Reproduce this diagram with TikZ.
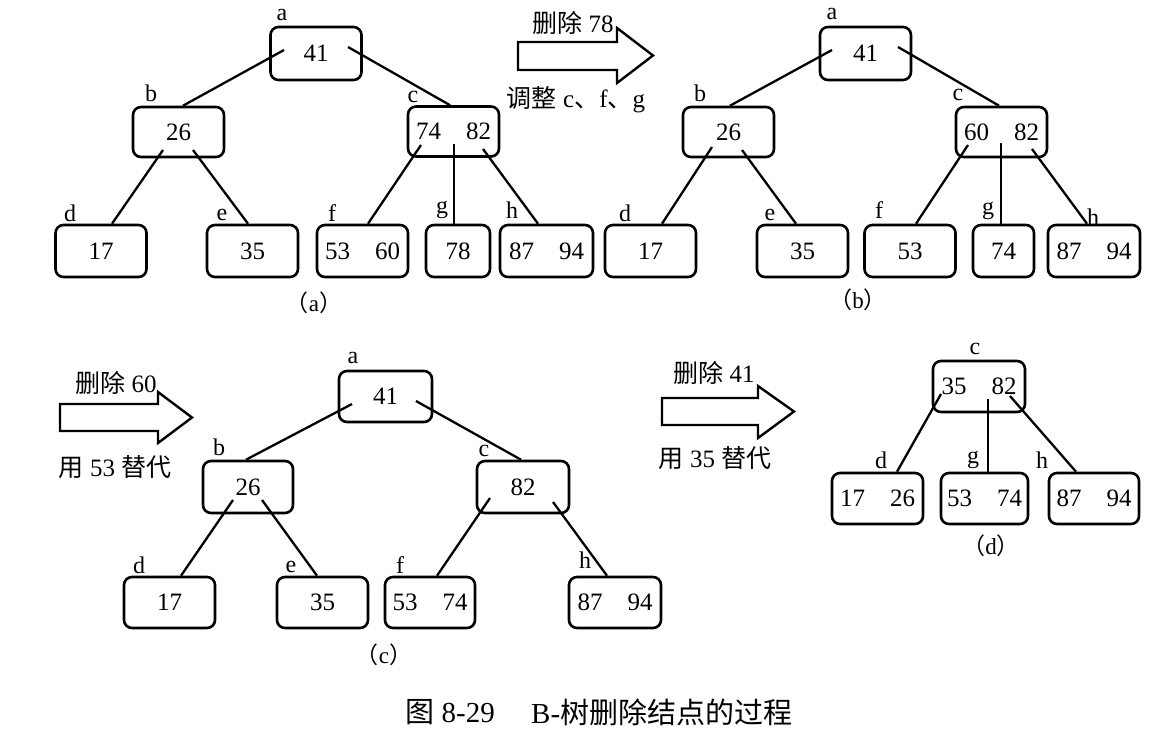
\documentclass[tikz,border=0pt]{standalone}
\usepackage{fontspec}
\setmainfont{Liberation Serif}
\newfontfamily\cjk{Noto Sans CJK SC}
\usetikzlibrary{calc}
\newcommand\kk[2]{#1\hspace{25pt}#2}
\begin{document}
\begin{tikzpicture}[x=1pt,y=-1pt,
 bx/.style={draw, line width=2.6pt, rounded corners=8pt, minimum width=91pt, minimum height=52pt, inner sep=0pt, font=\fontsize{25}{27}\selectfont},
 lb/.style={inner sep=0pt, font=\fontsize{24}{26}\selectfont},
 ed/.style={line width=2.3pt},
 blk/.style={draw, line width=2.4pt, line join=miter},
 cj/.style={inner sep=0pt, font=\fontsize{25}{27}\selectfont},
 subcap/.style={inner sep=0pt, font=\fontsize{23}{25}\selectfont},
 fig/.style={inner sep=0pt, font=\fontsize{29}{31}\selectfont}]
\useasboundingbox (0,0) rectangle (1170,748);

% ---------- panel (a)
\node[bx, minimum height=53pt] (A1) at (316,53.5) {41};
\node[bx, minimum height=50pt] (A2) at (178.5,132) {26};
\node[bx, minimum height=50pt] (A3) at (453.5,131.5) {\kk{74}{82}};
\node[bx] (A4) at (101,251) {17};
\node[bx] (A5) at (252.5,251) {35};
\node[bx] (A6) at (362.5,251) {\kk{53}{60}};
\node[bx, minimum width=64pt] (A7) at (458,251) {78};
\node[bx, minimum width=93pt] (A8) at (546.5,251) {\kk{87}{94}};
\node[lb] (Ala) at (282,15) {a};
\node[lb] (Alb) at (151,93) {b};
\node[lb] (Alc) at (413,97) {c};
\node[lb] (Ald) at (70,213) {d};
\node[lb] (Ale) at (222,215) {e};
\node[lb] (Alf) at (332,213) {f};
\node[lb] (Alg) at (442,210) {g};
\node[lb] (Alh) at (512,210) {h};
\draw[ed] ($(A1)+(-32,-3.5)$) -- ($(A2.north)+(4.5,0)$);
\draw[ed] ($(A1)+(32,-6.5)$) -- ($(A3.north)+(-3.5,0)$);
\draw[ed] ($(A2)+(-15.5,18)$) -- ($(A4.north)+(11,0)$);
\draw[ed] ($(A2)+(14.5,18)$) -- ($(A5.north)+(-4.5,0)$);
\draw[ed] ($(A3)+(-32.5,13.5)$) -- ($(A6.north)+(5.5,0)$);
\draw[ed] ($(A3)+(0.5,12.5)$) -- ($(A7.north)+(-4,0)$);
\draw[ed] ($(A3)+(29.5,17.5)$) -- ($(A8.north)+(-8.5,0)$);
\node[subcap] (Acap) at (314,303) {{\cjk （}a{\cjk ）}};

% arrow (a)->(b)
\draw[blk] (518,42) -- (617,42) -- (617,28) -- (653,55.5) -- (617,83) -- (617,70) -- (518,70) -- cycle;
\node[cj] (T1) at (573,23) {{\cjk 删除} 78};
\node[cj] (T2) at (576,100) {{\cjk 调整} c{\cjk 、}f{\cjk 、}g};

% ---------- panel (b)
\node[bx, minimum height=53pt] (B1) at (865.5,53.5) {41};
\node[bx, minimum height=50pt] (B2) at (728.5,132) {26};
\node[bx, minimum height=50pt] (B3) at (1001.5,132) {\kk{60}{82}};
\node[bx] (B4) at (650.5,251) {17};
\node[bx] (B5) at (802.5,251) {35};
\node[bx] (B6) at (910,251) {53};
\node[bx, minimum width=61pt] (B7) at (1003.5,251) {74};
\node[bx, minimum width=92pt] (B8) at (1094,251) {\kk{87}{94}};
\node[lb] (Bla) at (832,14) {a};
\node[lb] (Blb) at (700,93) {b};
\node[lb] (Blc) at (958,95) {c};
\node[lb] (Bld) at (625,213) {d};
\node[lb] (Ble) at (770,215) {e};
\node[lb] (Blf) at (879,210) {f};
\node[lb] (Blg) at (988,211) {g};
\node[lb] (Blh) at (1093,217) {h};
\draw[ed] ($(B1)+(-33.5,-3.5)$) -- ($(B2.north)+(1.5,0)$);
\draw[ed] ($(B1)+(32.5,-6.5)$) -- ($(B3.north)+(-2.5,0)$);
\draw[ed] ($(B2)+(-16.5,15)$) -- ($(B4.north)+(11.5,0)$);
\draw[ed] ($(B2)+(13.5,18)$) -- ($(B5.north)+(-6.5,0)$);
\draw[ed] ($(B3)+(-33.5,13)$) -- ($(B6.north)+(6,0)$);
\draw[ed] ($(B3)+(-0.5,11)$) -- ($(B7.north)+(-2.5,0)$);
\draw[ed] ($(B3)+(30.5,17)$) -- ($(B8.north)+(-7,0)$);
\node[subcap] (Bcap) at (858,300) {{\cjk （}b{\cjk ）}};

% arrow (b)->(c)
\draw[blk] (60,404) -- (158,404) -- (158,392) -- (192,417.5) -- (158,443) -- (158,431) -- (60,431) -- cycle;
\node[cj] (T3) at (116,383) {{\cjk 删除} 60};
\node[cj] (T4) at (115,467) {{\cjk 用} 53 {\cjk 替代}};

% ---------- panel (c)
\node[bx, minimum width=93pt, minimum height=51pt] (C1) at (385.5,396.5) {41};
\node[bx, minimum width=90pt] (C2) at (248,487) {26};
\node[bx, minimum width=92pt] (C3) at (523,487) {82};
\node[bx, minimum height=51pt] (C4) at (169.5,602.5) {17};
\node[bx, minimum height=51pt] (C5) at (322.5,602.5) {35};
\node[bx, minimum width=90pt, minimum height=51pt] (C6) at (430,602.5) {\kk{53}{74}};
\node[bx, minimum width=92pt, minimum height=51pt] (C8) at (615,602.5) {\kk{87}{94}};
\node[lb] (Cla) at (353,358) {a};
\node[lb] (Clb) at (219,447) {b};
\node[lb] (Clc) at (484,451) {c};
\node[lb] (Cld) at (139,565) {d};
\node[lb] (Cle) at (291,567) {e};
\node[lb] (Clf) at (400,565) {f};
\node[lb] (Clh) at (585,560) {h};
\draw[ed] ($(C1)+(-33.5,7.5)$) -- ($(C2.north)+(-2,0)$);
\draw[ed] ($(C1)+(30.5,4.5)$) -- ($(C3.north)+(-2,0)$);
\draw[ed] ($(C2)+(-15,13)$) -- ($(C4.north)+(11.5,0)$);
\draw[ed] ($(C2)+(14,13)$) -- ($(C5.north)+(-5.5,0)$);
\draw[ed] ($(C3)+(-33,11)$) -- ($(C6.north)+(7,0)$);
\draw[ed] ($(C3)+(30,15)$) -- ($(C8.north)+(-8,0)$);
\node[subcap] (Ccap) at (384,655) {{\cjk （}c{\cjk ）}};

% arrow (c)->(d)
\draw[blk] (662,398) -- (758,398) -- (758,386) -- (794,411.5) -- (758,438) -- (758,425) -- (662,425) -- cycle;
\node[cj] (T5) at (714,373) {{\cjk 删除} 41};
\node[cj] (T6) at (715,458) {{\cjk 用} 35 {\cjk 替代}};

% ---------- panel (d)
\node[bx, minimum width=92pt, minimum height=51pt] (D1) at (979,386.5) {\kk{35}{82}};
\node[bx, minimum height=51pt] (D2) at (877.5,498.5) {\kk{17}{26}};
\node[bx, minimum width=87pt, minimum height=51pt] (D3) at (984.5,498.5) {\kk{53}{74}};
\node[bx, minimum width=90pt, minimum height=51pt] (D4) at (1094,498.5) {\kk{87}{94}};
\node[lb] (Dlc) at (975,349) {c};
\node[lb] (Dld) at (881,460) {d};
\node[lb] (Dlg) at (973,460) {g};
\node[lb] (Dlh) at (1042,460) {h};
\draw[ed] ($(D1)+(-38,7.5)$) -- ($(D2.north)+(19.5,0)$);
\draw[ed] ($(D1)+(9,12.5)$) -- ($(D3.north)+(3.5,0)$);
\draw[ed] ($(D1)+(31,9.5)$) -- ($(D4.north)+(-18,0)$);
\node[subcap] (Dcap) at (991,546) {{\cjk （}d{\cjk ）}};

% ---------- figure caption
\node[fig, anchor=east] (F1) at (495,712) {{\cjk 图} 8-29};
\node[fig, anchor=west] (F2) at (531,712) {B-{\cjk 树删除结点的过程}};
\end{tikzpicture}
\end{document}
